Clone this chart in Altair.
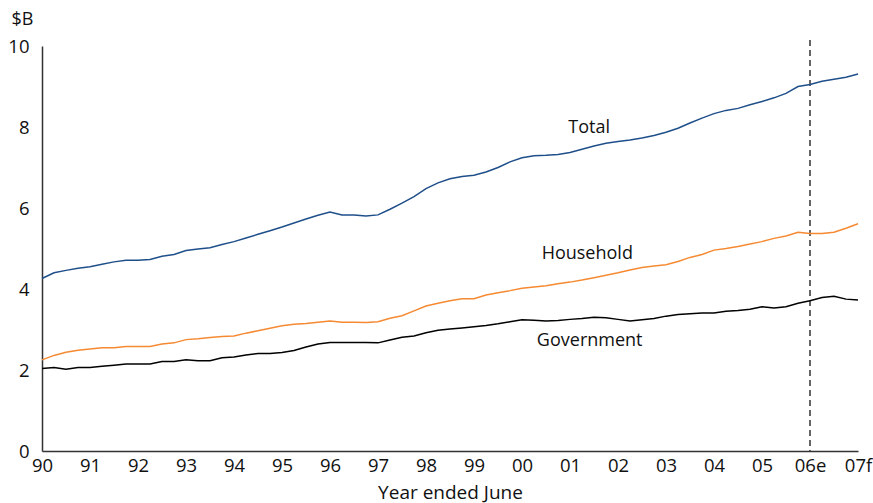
import altair as alt
import pandas as pd

# Quarterly observations, year ended June 1990 .. 2007 (forecast)
total = [4.26, 4.40, 4.46, 4.51,
         4.55, 4.61, 4.67, 4.71,
         4.71, 4.73, 4.81, 4.85,
         4.95, 4.99, 5.02, 5.10,
         5.17, 5.26, 5.35, 5.44,
         5.53, 5.63, 5.73, 5.82,
         5.90, 5.83, 5.83, 5.80,
         5.83, 5.97, 6.12, 6.28,
         6.48, 6.62, 6.72, 6.78,
         6.81, 6.89, 7.00, 7.14,
         7.24, 7.29, 7.30, 7.32,
         7.37, 7.45, 7.53, 7.60,
         7.64, 7.68, 7.73, 7.79,
         7.87, 7.97, 8.10, 8.22,
         8.33, 8.41, 8.46, 8.55,
         8.63, 8.72, 8.83, 9.00,
         9.05, 9.13, 9.18, 9.23,
         9.31]
household = [2.25, 2.36, 2.44, 2.49,
             2.52, 2.55, 2.55, 2.58,
             2.58, 2.58, 2.64, 2.67,
             2.75, 2.77, 2.80, 2.83,
             2.84, 2.91, 2.97, 3.03,
             3.09, 3.13, 3.15, 3.18,
             3.21, 3.18, 3.18, 3.17,
             3.19, 3.28, 3.34, 3.46,
             3.58, 3.65, 3.71, 3.76,
             3.76, 3.85, 3.91, 3.96,
             4.02, 4.05, 4.08, 4.13,
             4.17, 4.22, 4.28, 4.34,
             4.40, 4.47, 4.53, 4.57,
             4.60, 4.68, 4.78, 4.85,
             4.96, 5.00, 5.05, 5.11,
             5.17, 5.25, 5.31, 5.40,
             5.37, 5.37, 5.40, 5.50,
             5.61]
government = [2.04, 2.06, 2.02, 2.06,
              2.06, 2.09, 2.12, 2.15,
              2.15, 2.15, 2.21, 2.21,
              2.25, 2.23, 2.23, 2.30,
              2.32, 2.37, 2.41, 2.41,
              2.43, 2.48, 2.57, 2.64,
              2.68, 2.68, 2.68, 2.68,
              2.67, 2.74, 2.81, 2.84,
              2.92, 2.98, 3.01, 3.04,
              3.07, 3.10, 3.14, 3.19,
              3.24, 3.23, 3.21, 3.22,
              3.25, 3.27, 3.30, 3.29,
              3.25, 3.21, 3.24, 3.27,
              3.33, 3.37, 3.39, 3.41,
              3.41, 3.45, 3.47, 3.50,
              3.56, 3.53, 3.56, 3.65,
              3.71, 3.79, 3.82, 3.75,
              3.73]

year_ticks = list(range(1990, 2008))
tick_labels = ["90", "91", "92", "93", "94", "95", "96", "97", "98", "99",
               "00", "01", "02", "03", "04", "05", "06e", "07f"]

series_names = ["Total", "Household", "Government"]
series_colors = ["#1f4f8a", "#f58a33", "#000000"]
label_x = [2001.40, 2001.36, 2001.41]
label_y = [7.98, 4.86, 2.72]
estimate_start = 2006

quarters = [1990 + i * 0.25 for i in range(len(total))]

rows = []
for name, vals in zip(series_names, [total, household, government]):
    for q, v in zip(quarters, vals):
        rows.append({"t": q, "value": v, "series": name})
df = pd.DataFrame(rows)
labels_df = pd.DataFrame({"series": series_names, "x": label_x, "y": label_y})

FONT = "Open Sans"
label_expr = "[" + ",".join("'%s'" % s for s in tick_labels) + "][datum.value - 1990]"

x_scale = alt.Scale(domain=[1990, 2007], nice=False, zero=False)
y_scale = alt.Scale(domain=[0, 10], nice=False)

lines = alt.Chart(df).mark_line(strokeWidth=1.5).encode(
    x=alt.X("t:Q", scale=x_scale,
            axis=alt.Axis(values=year_ticks, labelExpr=label_expr, title="Year ended June",
                          titleY=41, titleBaseline="middle", labelPadding=5,
                          labelFlush=False, labelOverlap=False)),
    y=alt.Y("value:Q", scale=y_scale,
            axis=alt.Axis(values=[0, 2, 4, 6, 8, 10], title="$B", titleAngle=0,
                          titleX=-20, titleY=-27, titleAlign="center",
                          titleBaseline="middle", labelPadding=13,
                          titleFontSize=18)),
    color=alt.Color("series:N", scale=alt.Scale(domain=series_names, range=series_colors),
                    legend=None),
)

rule = alt.Chart(pd.DataFrame({"x": [estimate_start]})).mark_rule(
    color="#333333", strokeDash=[6, 4], strokeWidth=1.5
).encode(
    x=alt.X("x:Q", scale=x_scale),
    y=alt.value(-6),
    y2=alt.value(405),
)

texts = alt.Chart(labels_df).mark_text(
    font=FONT, fontSize=18, color="#111111", align="center", baseline="middle"
).encode(
    x=alt.X("x:Q", scale=x_scale),
    y=alt.Y("y:Q", scale=y_scale),
    text="series:N",
)

chart = alt.layer(rule, lines, texts).properties(
    width=816, height=405,
    autosize=alt.AutoSizeParams(type="none"),
    padding={"left": 42, "top": 46, "right": 15, "bottom": 52},
    background="white",
).configure_view(stroke=None).configure_axis(
    grid=False, ticks=False, domainColor="#333333", domainWidth=1.5,
    labelFont=FONT, labelFontSize=18.5, labelColor="#111111",
    titleFont=FONT, titleFontSize=19, titleFontWeight="normal", titleColor="#111111",
)

chart.save("out.html", embed_options={"renderer": "svg", "actions": False})
